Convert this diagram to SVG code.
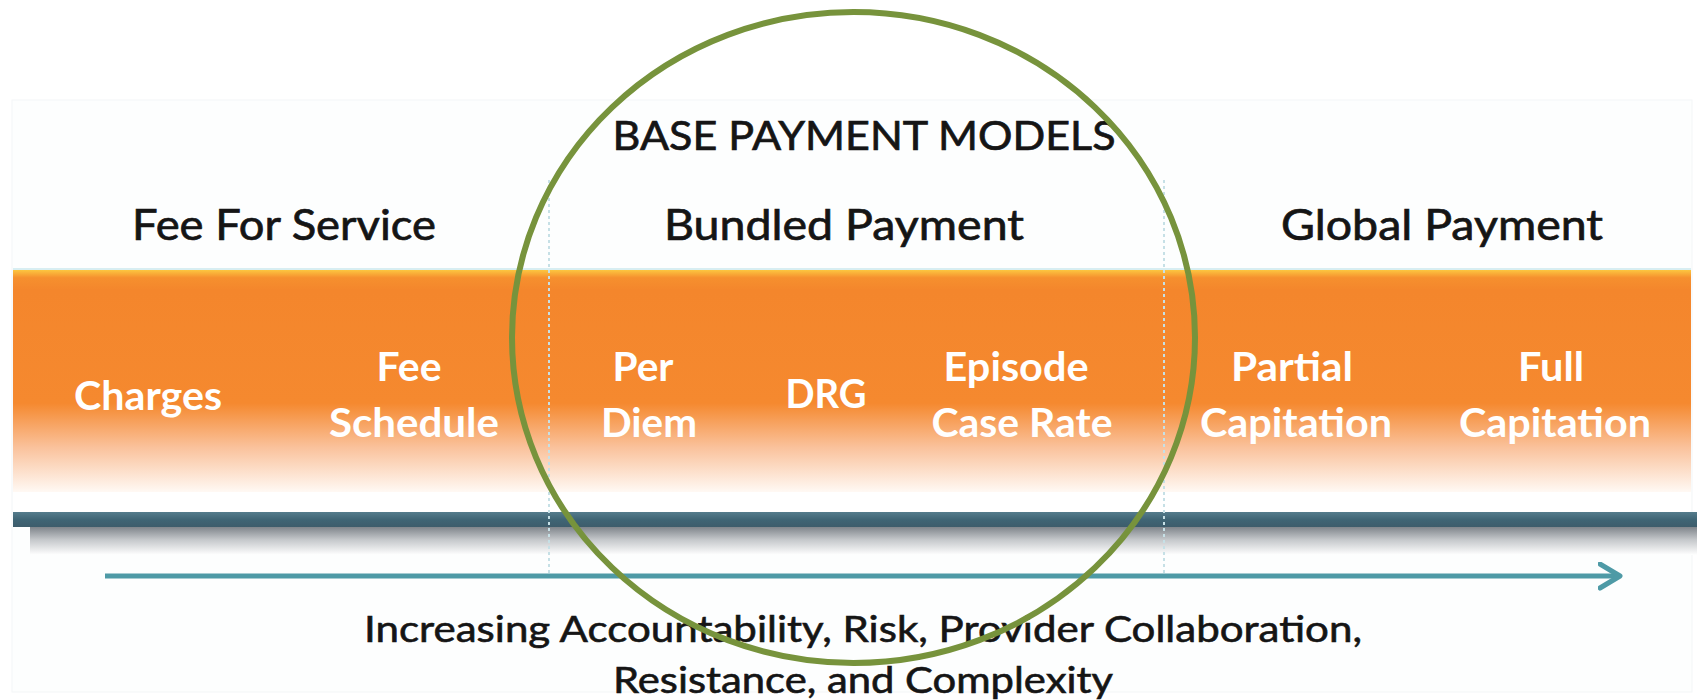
<svg xmlns="http://www.w3.org/2000/svg" width="1698" height="700" viewBox="0 0 1698 700">
  <defs>
    <linearGradient id="bandGrad" x1="0" y1="270" x2="0" y2="492" gradientUnits="userSpaceOnUse">
      <stop offset="0" stop-color="#FCC640"/>
      <stop offset="0.035" stop-color="#F6902E"/>
      <stop offset="0.09" stop-color="#F4862C"/>
      <stop offset="0.6" stop-color="#F5892F"/>
      <stop offset="0.8" stop-color="#FAC29C"/>
      <stop offset="1" stop-color="#FFF9F4"/>
    </linearGradient>
    <linearGradient id="stripGrad" x1="0" y1="0" x2="0" y2="1">
      <stop offset="0" stop-color="#557C8C"/>
      <stop offset="0.5" stop-color="#3F6575"/>
      <stop offset="1" stop-color="#3D5C6B"/>
    </linearGradient>
    <linearGradient id="shadowGrad" x1="0" y1="0" x2="0" y2="1">
      <stop offset="0" stop-color="#7F858B"/>
      <stop offset="0.45" stop-color="#C4C7CA"/>
      <stop offset="1" stop-color="#FFFFFF"/>
    </linearGradient>
    <marker id="chevron" markerUnits="userSpaceOnUse" markerWidth="30" markerHeight="30" refX="22" refY="14" orient="auto">
      <path d="M2,2 L22,14 L2,26" fill="none" stroke="#4E9AA6" stroke-width="5" stroke-linejoin="round" stroke-linecap="round"/>
    </marker>
  </defs>
  <style>
    .hdr { font-family: Lato, "Open Sans", "Liberation Sans", sans-serif; fill: #151515; stroke: #151515; stroke-width: 0.7px; text-anchor: middle; }
    .lbl { font-family: Lato, "Open Sans", "Liberation Sans", sans-serif; font-weight: bold; fill: #FFFFFF; text-anchor: middle; font-size: 40px; }
    .foot { font-family: Lato, "Open Sans", "Liberation Sans", sans-serif; fill: #151515; stroke: #151515; stroke-width: 0.6px; text-anchor: middle; font-size: 36px; }
    .divider { stroke: #C6E0E6; stroke-width: 2; stroke-dasharray: 3 3; fill: none; }
  </style>

  <rect x="0" y="0" width="1698" height="700" fill="#FFFFFF"/>
  <rect x="12" y="100" width="1680" height="592" fill="#FDFEFE" stroke="#F3F6F7" stroke-width="1"/>

  <!-- band -->
  <g id="band">
    <rect x="13" y="268" width="1678" height="2" fill="#D8EEF2"/>
    <rect x="13" y="270" width="1678" height="222" fill="url(#bandGrad)"/>
    <rect x="13" y="492" width="1678" height="21" fill="#FFFFFF"/>
    <rect x="13" y="512" width="1684" height="15" fill="url(#stripGrad)"/>
    <rect x="30" y="527" width="1667" height="28" fill="url(#shadowGrad)"/>
  </g>

  <!-- dividers -->
  <g id="dividers">
    <line class="divider" x1="549" y1="180" x2="549" y2="575"/>
    <line class="divider" x1="1164" y1="180" x2="1164" y2="575"/>
  </g>

  <g id="title">
    <text class="hdr" x="864" y="150" font-size="40" textLength="503" lengthAdjust="spacingAndGlyphs">BASE PAYMENT MODELS</text>
  </g>

  <g id="fee-for-service">
    <text class="hdr" x="284" y="240" font-size="42" textLength="304" lengthAdjust="spacingAndGlyphs">Fee For Service</text>
  </g>
  <g id="bundled-payment">
    <text class="hdr" x="844" y="240" font-size="42" textLength="360" lengthAdjust="spacingAndGlyphs">Bundled Payment</text>
  </g>
  <g id="global-payment">
    <text class="hdr" x="1442" y="240" font-size="42" textLength="322" lengthAdjust="spacingAndGlyphs">Global Payment</text>
  </g>

  <g id="charges">
    <text class="lbl" x="148" y="410" textLength="148" lengthAdjust="spacingAndGlyphs">Charges</text>
  </g>
  <g id="fee-schedule">
    <text class="lbl" x="409" y="381" textLength="65" lengthAdjust="spacingAndGlyphs">Fee</text>
    <text class="lbl" x="414" y="437" textLength="170" lengthAdjust="spacingAndGlyphs">Schedule</text>
  </g>
  <g id="per-diem">
    <text class="lbl" x="643" y="381" textLength="61" lengthAdjust="spacingAndGlyphs">Per</text>
    <text class="lbl" x="649" y="437" textLength="96" lengthAdjust="spacingAndGlyphs">Diem</text>
  </g>
  <g id="drg">
    <text class="lbl" x="826" y="408" textLength="81" lengthAdjust="spacingAndGlyphs">DRG</text>
  </g>
  <g id="episode-case-rate">
    <text class="lbl" x="1016" y="381" textLength="145" lengthAdjust="spacingAndGlyphs">Episode</text>
    <text class="lbl" x="1022" y="437" textLength="181" lengthAdjust="spacingAndGlyphs">Case Rate</text>
  </g>
  <g id="partial-capitation">
    <text class="lbl" x="1292" y="381" textLength="122" lengthAdjust="spacingAndGlyphs">Partial</text>
    <text class="lbl" x="1296" y="437" textLength="192" lengthAdjust="spacingAndGlyphs">Capitation</text>
  </g>
  <g id="full-capitation">
    <text class="lbl" x="1551" y="381" textLength="66" lengthAdjust="spacingAndGlyphs">Full</text>
    <text class="lbl" x="1555" y="437" textLength="192" lengthAdjust="spacingAndGlyphs">Capitation</text>
  </g>

  <g id="connectors">
    <line x1="105" y1="576" x2="1620" y2="576" stroke="#4E9AA6" stroke-width="5" marker-end="url(#chevron)"/>
  </g>

  <g id="footer">
    <text class="foot" x="863" y="642" textLength="998" lengthAdjust="spacingAndGlyphs">Increasing Accountability, Risk, Provider Collaboration,</text>
    <text class="foot" x="863" y="693" textLength="500" lengthAdjust="spacingAndGlyphs">Resistance, and Complexity</text>
  </g>

  <g id="highlight-circle">
    <ellipse cx="853.5" cy="337.5" rx="341.5" ry="325.5" fill="none" stroke="#77933C" stroke-width="6"/>
  </g>
</svg>
